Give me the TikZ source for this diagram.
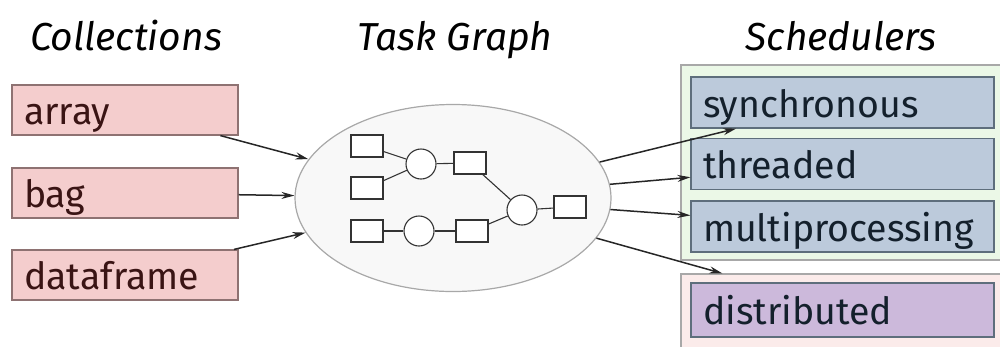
\documentclass[tikz,border=0pt]{standalone}
\usepackage{fontspec}
\setmainfont{Fira Sans}
\usetikzlibrary{shapes.geometric, arrows.meta}

\definecolor{collfill}{HTML}{F4CDCD}
\definecolor{colldraw}{HTML}{8E7272}
\definecolor{colltext}{HTML}{3A1414}
\definecolor{schedfill}{HTML}{BCCADB}
\definecolor{scheddraw}{HTML}{5E6E7C}
\definecolor{schedtext}{HTML}{14202C}
\definecolor{distfill}{HTML}{CCB9DB}
\definecolor{localbg}{HTML}{EBF8E7}
\definecolor{clusterbg}{HTML}{FBEBEA}
\definecolor{groupdraw}{HTML}{A8A8A8}
\definecolor{graphbg}{HTML}{F8F8F8}

\begin{document}
\begin{tikzpicture}[x=1pt, y=-1pt,
  title/.style={anchor=base, font=\fontsize{39}{44}\selectfont\itshape},
  coll/.style={rectangle, draw=colldraw, fill=collfill, line width=1.2pt,
    minimum width=226pt, minimum height=50pt, inner xsep=12pt, inner ysep=0pt,
    text width=202pt, text height=31pt, text depth=2pt, align=left, text=colltext,
    font=\fontsize{37.5}{40}\selectfont},
  sched/.style={coll, draw=scheddraw, fill=schedfill, text=schedtext,
    minimum width=303pt, minimum height=51pt, text width=279pt},
  group/.style={rectangle, draw=groupdraw, line width=1.2pt, minimum width=358pt},
  task/.style={rectangle, draw=black!80, fill=white, line width=1.1pt, minimum width=32pt, minimum height=22pt, inner sep=0pt},
  op/.style={circle, draw=black!80, fill=white, line width=1.1pt, minimum size=30pt, inner sep=0pt},
  link/.style={draw=black!80, line width=1.1pt},
  arrow/.style={-{Stealth[length=13pt, width=7pt]}, line width=1.5pt, black!85}
]
\clip (0,0) rectangle (1000,346);

% Collections
\node[title] (tcoll) at (126,50) {Collections};
\node[coll] (array) at (125,110) {array};
\node[coll] (bag) at (125,193) {bag};
\node[coll] (df) at (125,275) {dataframe};

% Task Graph
\node[title] (tgraph) at (455,50) {Task Graph};
\node[ellipse, draw=groupdraw, fill=graphbg, line width=1.2pt,
  minimum width=316pt, minimum height=187pt] (graph) at (453,198) {};

\node[task] (r1) at (367,146) {};
\node[task] (r2) at (367,188) {};
\node[op] (c1) at (421,164) {};
\node[task] (r3) at (470,163) {};
\node[task] (r4) at (367,231) {};
\node[op] (c2) at (419,231) {};
\node[task] (r5) at (472,231) {};
\node[op] (c3) at (522,210) {};
\node[task] (r6) at (570,207) {};

\draw[link] (r1) -- (c1);
\draw[link] (r2) -- (c1);
\draw[link] (c1) -- (r3);
\draw[link] (r3) -- (c3);
\draw[link] (r4) -- (c2);
\draw[link] (c2) -- (r5);
\draw[link] (r5) -- (c3);
\draw[link] (c3) -- (r6);

% Schedulers
\node[title] (tsched) at (841,50) {Schedulers};
\node[group, fill=localbg, minimum height=195pt] (local) at (860,162.5) {};
\node[group, fill=clusterbg, minimum height=76pt] (cluster) at (860,312) {};

\node[sched] (sync) at (842.5,102.5) {synchronous};
\node[sched] (thread) at (842.5,164) {threaded};
\node[sched] (multi) at (842.5,226.5) {multiprocessing};
\node[sched, fill=distfill, minimum height=54pt] (dist) at (842.5,310) {distributed};

\draw[arrow] (array) -- (graph);
\draw[arrow] (bag) -- (graph);
\draw[arrow] (df) -- (graph);

\draw[arrow] (graph) -- (sync);
\draw[arrow] (graph) -- (thread);
\draw[arrow] (graph) -- (multi);
\draw[arrow] (graph) -- (cluster);

\end{tikzpicture}
\end{document}
